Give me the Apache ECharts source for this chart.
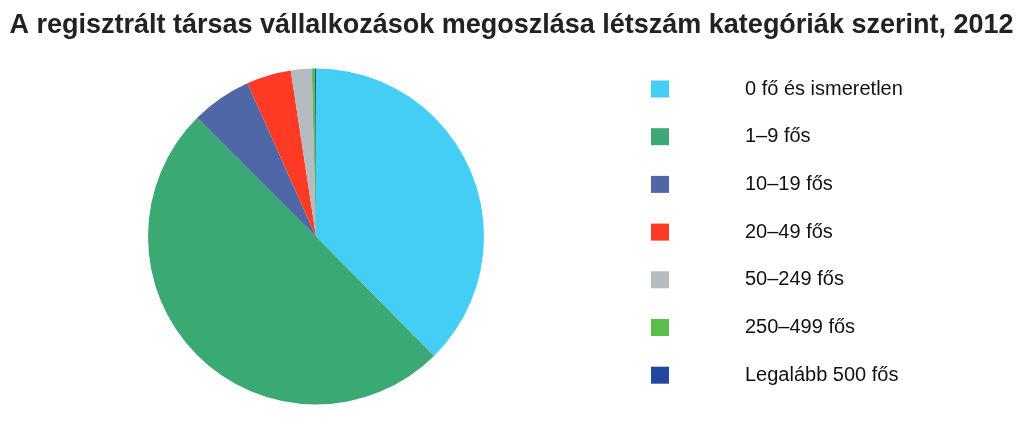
<!DOCTYPE html>
<html>
<head>
<meta charset="utf-8">
<script src="https://cdn.jsdelivr.net/npm/echarts@6/dist/echarts.min.js"></script>
<style>
html,body{margin:0;padding:0;background:#fff;}
#chart{width:1023px;height:429px;}
</style>
</head>
<body>
<div id="chart"></div>
<script>
const titleText = 'A regisztrált társas vállalkozások megoszlása létszám kategóriák szerint, 2012';
const categories = ['0 fő és ismeretlen', '1–9 fős', '10–19 fős', '20–49 fős', '50–249 fős', '250–499 fős', 'Legalább 500 fős'];
const values = [37.6, 49.9, 5.8, 4.3, 2.0, 0.3, 0.1];
const palette = ['#45CEF5', '#3AA974', '#4F67A6', '#FF3B25', '#B4BCBF', '#5BBE4A', '#2347A0'];

const chart = echarts.init(document.getElementById('chart'), null, {renderer: 'canvas'});
chart.setOption({
  animation: false,
  backgroundColor: '#ffffff',
  color: palette,
  title: {
    text: titleText,
    left: 'center',
    top: 7,
    textStyle: {
      fontFamily: 'Liberation Sans, Arial, sans-serif',
      fontSize: 27,
      fontWeight: 'bold',
      color: '#222222'
    }
  },
  legend: {
    orient: 'vertical',
    left: 651,
    top: 79,
    padding: 0,
    icon: 'rect',
    itemWidth: 18,
    itemHeight: 17,
    itemGap: 27.7,
    data: categories,
    formatter: function (n) { return '{t|' + n + '}'; },
    textStyle: {
      fontFamily: 'Liberation Sans, Arial, sans-serif',
      fontSize: 20,
      color: '#111111',
      lineHeight: 20,
      rich: {
        t: {
          fontFamily: 'Liberation Sans, Arial, sans-serif',
          fontSize: 20,
          color: '#111111',
          lineHeight: 20,
          padding: [0, 0, 0, 71]
        }
      }
    },
    selectedMode: false
  },
  series: [{
    type: 'pie',
    center: [316, 236.5],
    radius: 168,
    startAngle: 90,
    clockwise: true,
    label: {show: false},
    labelLine: {show: false},
    emphasis: {disabled: true},
    itemStyle: {borderWidth: 0},
    data: categories.map(function (c, i) { return {name: c, value: values[i]}; })
  }]
});
</script>
</body>
</html>
